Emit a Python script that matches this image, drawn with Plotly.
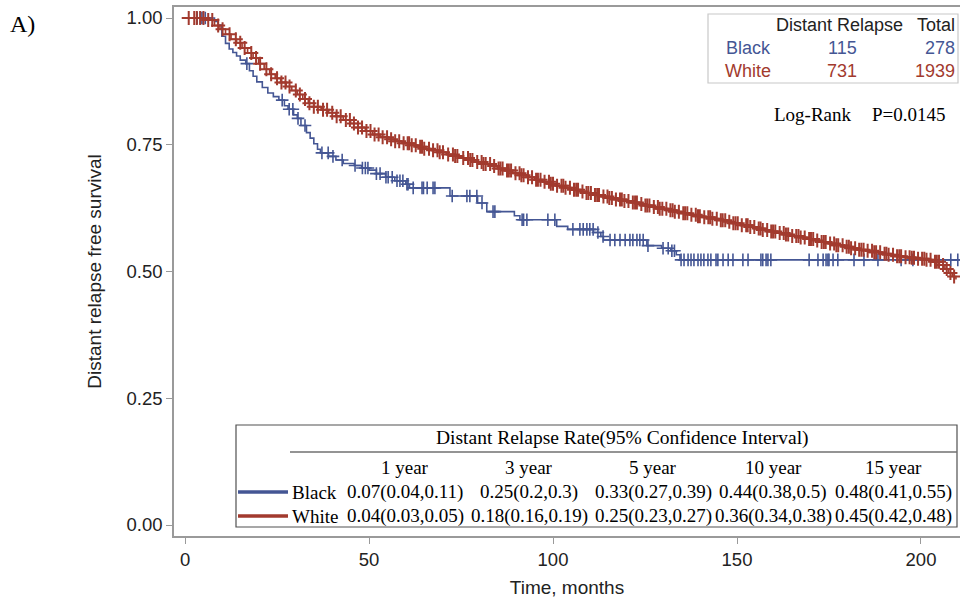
import numpy as np
import plotly.graph_objects as go

# ---------------- data ----------------
black_t = [0, 8, 9, 10, 11, 12, 13, 14, 15, 16.5, 17.5, 18.5, 19.5, 21, 22.5, 24, 25.5, 27, 28,
           29.5, 30.5, 31.5, 33, 34, 35, 36, 36.8, 39, 41, 43, 46, 48, 50, 52, 54.5, 57, 60, 61,
           72, 79.5, 82, 89.5, 91, 101, 104, 111, 113, 113.7, 125.5, 129.5, 132, 133.5, 134.5, 210.6]
black_s = [1.0, 0.993, 0.986, 0.964, 0.950, 0.939, 0.932, 0.925, 0.917, 0.910, 0.896, 0.885, 0.874,
           0.863, 0.852, 0.845, 0.838, 0.827, 0.820, 0.809, 0.802, 0.788, 0.774, 0.763, 0.752, 0.741,
           0.734, 0.727, 0.720, 0.713, 0.709, 0.704, 0.700, 0.693, 0.686, 0.679, 0.672, 0.665, 0.649,
           0.635, 0.618, 0.610, 0.602, 0.589, 0.583, 0.577, 0.569, 0.562, 0.551, 0.546, 0.541, 0.533,
           0.523, 0.523]
black_cens = [3.3, 4.2, 4.6, 5.5, 16.8, 26.4, 28.3, 29.3, 30.7, 32.6, 37.2, 38.9, 40.2, 42.7, 46.2,
              48.2, 49.0, 49.7, 52.0, 53.0, 54.6, 55.2, 56.3, 57.6, 58.4, 59.2, 60.3, 60.6, 62.0, 64.4,
              64.8, 65.8, 67.4, 67.9, 72.6, 76.6, 77.4, 79.3, 80.7, 83.7, 84.2, 91.6, 92.0, 92.9, 98.6,
              100.5, 105.4, 107.3, 108.2, 109.2, 110.0, 110.9, 112.2, 113.6, 115.5, 116.8, 118.2,
              119.6, 120.9, 121.7, 122.8, 123.6, 124.5, 125.8, 129.9, 131.3, 132.3, 133.0, 134.8,
              135.6, 136.7, 137.5, 138.3, 139.4, 140.2, 141.0, 142.1, 142.9, 144.3, 144.8, 146.2,
              147.6, 148.9, 151.6, 153.0, 156.5, 157.0, 157.9, 158.4, 159.2, 169.6, 172.0, 173.4,
              174.2, 174.7, 175.0, 176.1, 177.4, 181.8, 184.5, 188.3, 194.6, 197.8, 208.1, 210.0]

white_t = [0, 6, 8, 9.5, 11, 12.5, 14, 15.5, 17, 18.5, 20, 21.5, 23, 24.5, 26, 27.5, 29, 30.5, 32,
           33.5, 35, 37, 39, 41, 43, 45, 47, 49, 51, 53, 55, 57, 59, 61, 63, 65, 67, 69, 71, 73, 75,
           77, 79, 81, 83, 85, 87, 89, 91, 93, 95, 97, 99, 101, 103, 105, 107, 109, 111, 113, 115,
           117, 119, 121, 123, 125, 127, 129, 131, 133, 135, 137, 139, 141, 143, 145, 147, 149, 151,
           153, 155, 157, 159, 161, 163, 165, 167, 169, 171, 173, 175, 177, 179, 181, 183, 185, 187,
           189, 191, 193, 195, 197, 199, 201, 203, 205, 206.5, 207.5, 208.5, 209.5]
white_s = [1.0, 0.996, 0.985, 0.978, 0.968, 0.958, 0.951, 0.941, 0.931, 0.921, 0.910, 0.899, 0.889,
           0.881, 0.873, 0.865, 0.857, 0.849, 0.840, 0.832, 0.825, 0.819, 0.813, 0.806, 0.799, 0.792,
           0.784, 0.777, 0.770, 0.765, 0.761, 0.757, 0.753, 0.749, 0.746, 0.742, 0.739, 0.735, 0.731,
           0.728, 0.724, 0.720, 0.716, 0.712, 0.708, 0.703, 0.699, 0.694, 0.690, 0.686, 0.681, 0.677,
           0.673, 0.669, 0.665, 0.661, 0.658, 0.655, 0.651, 0.648, 0.645, 0.642, 0.639, 0.636, 0.633,
           0.630, 0.627, 0.624, 0.621, 0.618, 0.615, 0.612, 0.609, 0.607, 0.604, 0.601, 0.598, 0.595,
           0.591, 0.588, 0.585, 0.582, 0.579, 0.576, 0.573, 0.570, 0.567, 0.564, 0.561, 0.558, 0.555,
           0.552, 0.549, 0.546, 0.543, 0.541, 0.538, 0.535, 0.533, 0.530, 0.528, 0.527, 0.525, 0.523,
           0.519, 0.513, 0.505, 0.497, 0.490, 0.484]
white_cens = [1.0, 2.5, 3.2, 4.1, 5.0, 6.3, 7.4, 9.0, 10.2, 12.1, 13.8, 15.0, 16.2, 18.0, 19.3, 20.4,
              22.1, 23.4, 25.0, 26.2, 27.3, 28.4, 30.1, 31.2, 32.6, 33.8, 35.0, 36.1, 37.5, 38.6,
              40.0, 41.2, 42.3, 43.7, 44.8, 45.9, 47.0, 48.1, 49.3, 50.4, 51.5, 52.6, 53.7, 54.9,
              56.0, 57.1, 58.2, 59.4, 60.5, 61.6, 62.7, 63.9, 65.0, 66.3, 67.4, 68.6, 70.1, 71.5,
              72.8, 74.0, 75.6, 76.9, 78.1, 79.4, 80.6, 81.7, 82.9, 84.0, 85.2, 86.3, 87.5, 88.6,
              89.8, 90.9, 92.0, 93.2, 94.3, 95.4, 96.6, 97.7, 98.9, 100.0, 101.1, 102.3, 103.4,
              104.6, 105.7, 106.8, 108.0, 109.1, 110.3, 111.4, 112.5, 113.7, 114.8, 116.0, 117.1,
              118.2, 119.4, 120.5, 121.7, 122.8, 124.0, 125.1, 126.2, 127.4, 128.5, 129.7, 130.8,
              131.9, 133.1, 134.2, 135.4, 136.5, 137.6, 138.8, 139.9, 141.1, 142.2, 143.3, 144.5,
              145.6, 146.8, 147.9, 149.0, 150.2, 151.3, 152.5, 153.6, 154.7, 155.9, 157.0, 158.2,
              159.3, 160.4, 161.6, 162.7, 163.9, 165.0, 166.1, 167.3, 168.4, 169.6, 170.7, 171.8,
              173.0, 174.1, 175.3, 176.4, 177.5, 178.7, 179.8, 181.0, 182.1, 183.2, 184.4, 185.5,
              186.7, 187.8, 188.9, 190.1, 191.2, 192.4, 193.5, 194.6, 195.8, 196.9, 198.1, 199.2,
              200.3, 201.5, 202.6, 203.8, 204.9, 206.0, 207.0, 208.0, 209.0,
              60.9, 64.4, 69.2, 73.4, 77.5, 81.1, 85.7, 88.0, 91.4, 95.9, 99.4, 102.8, 106.3, 109.6,
              112.0, 115.3, 118.7, 122.3, 125.6, 129.0, 132.5, 135.9, 139.4, 142.7, 146.1, 149.6,
              152.9, 156.4, 159.8, 163.3, 166.7, 170.1, 173.6, 177.0, 180.4, 183.8, 187.3, 190.6,
              194.1, 197.5, 200.9, 204.3]

groups = ["Black", "White"]
events = [115, 731]
totals = [278, 1939]
colors = ["#445694", "#A23A2E"]

year_labels = ["1 year", "3 year", "5 year", "10 year", "15 year"]
black_rates = ["0.07(0.04,0.11)", "0.25(0.2,0.3)", "0.33(0.27,0.39)", "0.44(0.38,0.5)", "0.48(0.41,0.55)"]
white_rates = ["0.04(0.03,0.05)", "0.18(0.16,0.19)", "0.25(0.23,0.27)", "0.36(0.34,0.38)", "0.45(0.42,0.48)"]

x_ticks = [0, 50, 100, 150, 200]
y_ticks = [0.0, 0.25, 0.5, 0.75, 1.0]

# ---------------- layout geometry (pixels) ----------------
W, H = 960, 600
L, R, T, B = 174, 0, 7, 64
PW, PH = W - L - R, H - T - B


def px(x):
    return (x - L) / PW


def py(y):
    return (H - B - y) / PH


def step_at(ts, ss, q):
    idx = np.searchsorted(np.asarray(ts), np.asarray(q), side="right") - 1
    return np.asarray(ss)[idx]


fig = go.Figure()
series = [(black_t, black_s, black_cens), (white_t, white_s, white_cens)]
msize = [9, 10]
mwidth = [1.6, 2.0]
for k, ((ts, ss, cens), col, name) in enumerate(zip(series, colors, groups)):
    fig.add_trace(go.Scatter(x=ts, y=ss, mode="lines", line=dict(color=col, width=1.6, shape="hv"),
                             name=name, showlegend=False, hoverinfo="skip"))
    cs = sorted(cens)
    fig.add_trace(go.Scatter(x=cs, y=step_at(ts, ss, cs), mode="markers",
                             marker=dict(symbol="cross-thin-open", size=msize[k], color=col,
                                         line=dict(color=col, width=mwidth[k])),
                             showlegend=False, hoverinfo="skip"))

SANS = "Liberation Sans, Arial, sans-serif"
SERIF = "Liberation Serif, Times New Roman, serif"
axis_gray = "#9a9a9a"

fig.update_layout(
    width=W, height=H, margin=dict(l=L, r=R, t=T, b=B),
    paper_bgcolor="white", plot_bgcolor="white",
    xaxis=dict(range=[-3.0, 210.6], tickvals=x_ticks, ticktext=[str(v) for v in x_ticks],
               showgrid=False, zeroline=False, showline=True, linecolor=axis_gray, linewidth=1.5,
               mirror=True, ticks="outside", ticklen=6, tickcolor=axis_gray, tickwidth=1,
               tickfont=dict(family=SANS, size=18.5, color="#222"),
               title=dict(text="Time, months", font=dict(family=SANS, size=19, color="#222"), standoff=12)),
    yaxis=dict(range=[-11 / 507, 1 + 11 / 507], tickvals=y_ticks, ticktext=["%.2f" % v for v in y_ticks],
               showgrid=False, zeroline=False, showline=True, linecolor=axis_gray, linewidth=1.5,
               ticks="outside", ticklen=6, tickcolor=axis_gray, tickwidth=1,
               tickfont=dict(family=SANS, size=18.5, color="#222"),
               title=dict(text="Distant relapse free survival", font=dict(family=SANS, size=19, color="#222"),
                          standoff=20)),
)

shapes = []
annotations = []

# panel label
annotations.append(dict(x=px(8), y=py(24), xref="paper", yref="paper", text="A)", showarrow=False,
                        xanchor="left", yanchor="middle", font=dict(family=SERIF, size=24, color="black")))

# upper-right summary box
shapes.append(dict(type="rect", xref="paper", yref="paper", x0=px(708), x1=px(958), y0=py(83), y1=py(14),
                   line=dict(color="#c8c8c8", width=1.2), fillcolor="white"))
annotations.append(dict(x=px(905), y=py(25), xref="paper", yref="paper", text="Distant Relapse",
                        showarrow=False, xanchor="right", yanchor="middle",
                        font=dict(family=SANS, size=18, color="#222")))
annotations.append(dict(x=px(957), y=py(25), xref="paper", yref="paper", text="Total",
                        showarrow=False, xanchor="right", yanchor="middle",
                        font=dict(family=SANS, size=18, color="#222")))
for i, (g, e, tt, col) in enumerate(zip(groups, events, totals, colors)):
    yy = py(48 + 23 * i)
    annotations.append(dict(x=px(773), y=yy, xref="paper", yref="paper", text=g, showarrow=False,
                            xanchor="right", yanchor="middle", font=dict(family=SANS, size=18, color=col)))
    annotations.append(dict(x=px(842), y=yy, xref="paper", yref="paper", text=str(e), showarrow=False,
                            xanchor="center", yanchor="middle", font=dict(family=SANS, size=18, color=col)))
    annotations.append(dict(x=px(957), y=yy, xref="paper", yref="paper", text=str(tt), showarrow=False,
                            xanchor="right", yanchor="middle", font=dict(family=SANS, size=18, color=col)))

annotations.append(dict(x=px(772), y=py(115), xref="paper", yref="paper", text="Log-Rank",
                        showarrow=False, xanchor="left", yanchor="middle",
                        font=dict(family=SERIF, size=19, color="black")))
annotations.append(dict(x=px(948), y=py(115), xref="paper", yref="paper", text="P=0.0145",
                        showarrow=False, xanchor="right", yanchor="middle",
                        font=dict(family=SERIF, size=19, color="black")))

# bottom rate table
shapes.append(dict(type="rect", xref="paper", yref="paper", x0=px(236), x1=px(957), y0=py(527), y1=py(425),
                   line=dict(color="#505050", width=1.2), fillcolor="white"))
shapes.append(dict(type="line", xref="paper", yref="paper", x0=px(290), x1=px(957), y0=py(452), y1=py(452),
                   line=dict(color="#707070", width=1.5)))
annotations.append(dict(x=px(622), y=py(438), xref="paper", yref="paper",
                        text="Distant Relapse Rate(95% Confidence Interval)", showarrow=False,
                        xanchor="center", yanchor="middle", font=dict(family=SERIF, size=19.5, color="black")))
col_x = [405, 529, 653, 773, 893]
for cx, lab in zip(col_x, year_labels):
    annotations.append(dict(x=px(cx), y=py(467), xref="paper", yref="paper", text=lab, showarrow=False,
                            xanchor="center", yanchor="middle", font=dict(family=SERIF, size=19, color="black")))
for i, (g, col, rates) in enumerate(zip(groups, colors, [black_rates, white_rates])):
    yy = 492 + 24 * i
    shapes.append(dict(type="line", xref="paper", yref="paper", x0=px(238), x1=px(288), y0=py(yy), y1=py(yy),
                       line=dict(color=col, width=3.5)))
    annotations.append(dict(x=px(290), y=py(yy), xref="paper", yref="paper", text=g, showarrow=False,
                            xanchor="left", yanchor="middle", font=dict(family=SERIF, size=19, color="black")))
    for cx, r in zip(col_x, rates):
        annotations.append(dict(x=px(cx), y=py(yy), xref="paper", yref="paper", text=r, showarrow=False,
                                xanchor="center", yanchor="middle",
                                font=dict(family=SERIF, size=19, color="black")))

fig.update_layout(shapes=shapes, annotations=annotations)
fig.write_html("out.html")
